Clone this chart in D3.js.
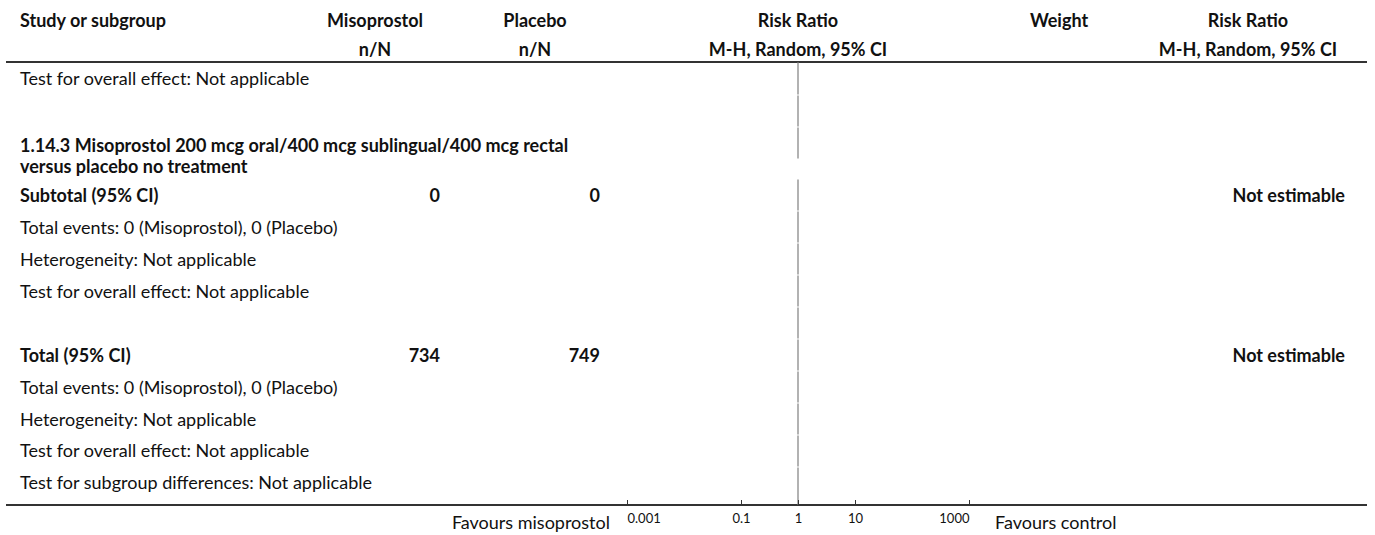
<!DOCTYPE html>
<html>
<head>
<meta charset="utf-8">
<script src="https://cdn.jsdelivr.net/npm/d3@7/dist/d3.min.js"></script>
<style>
  html, body { margin: 0; padding: 0; background: #fff; }
  svg { display: block; font-family: Lato, "Noto Sans", sans-serif; }
</style>
</head>
<body>
<svg id="chart" width="1375" height="535"></svg>
<script>
// ---- forest plot content ----
const headerTop = ["Study or subgroup", "Misoprostol", "Placebo", "Risk Ratio", "Weight", "Risk Ratio"];
const headerSub = ["", "n/N", "n/N", "M-H, Random, 95% CI", "", "M-H, Random, 95% CI"];

const rowLabels = [
  "Test for overall effect: Not applicable",
  "",
  "1.14.3 Misoprostol 200 mcg oral/400 mcg sublingual/400 mcg rectal",
  "versus placebo no treatment",
  "Subtotal (95% CI)",
  "Total events: 0 (Misoprostol), 0 (Placebo)",
  "Heterogeneity: Not applicable",
  "Test for overall effect: Not applicable",
  "",
  "Total (95% CI)",
  "Total events: 0 (Misoprostol), 0 (Placebo)",
  "Heterogeneity: Not applicable",
  "Test for overall effect: Not applicable",
  "Test for subgroup differences: Not applicable"
];
const rowBold = [false, false, true, true, true, false, false, false, false, true, false, false, false, false];
const misoprostolTotals = [null, null, null, null, 0, null, null, null, null, 734, null, null, null, null];
const placeboTotals     = [null, null, null, null, 0, null, null, null, null, 749, null, null, null, null];
const effectText        = [null, null, null, null, "Not estimable", null, null, null, null, "Not estimable", null, null, null, null];

const axisTicks = [0.001, 0.1, 1, 10, 1000];
const axisTickLabels = ["0.001", "0.1", "1", "10", "1000"];
const favoursLabels = ["Favours misoprostol", "Favours control"];

// ---- layout ----
const ruleLeft = 6, ruleRight = 1367;
const topRuleY = 62, axisY = 505;
const textLeft = 20;
const fs = 18;
// row heights: the wrapped second line of the subgroup title is a short row
const rowHeights = [33, 32, 32, 20, 32, 32, 32, 32, 32, 32, 32, 32, 32, 32];
// small vertical nudges so the two title lines sit close together
const rowNudge = [0, 0, 3, -2, 1, 1, 1, 1, 0, 1, 1, 1, 0, 0];
const rowTops = [];
rowHeights.reduce((acc, h) => { rowTops.push(acc); return acc + h; }, topRuleY);
const rowMid = i => rowTops[i] + rowHeights[i] / 2 + rowNudge[i];
// rows with the line of no effect drawn through them
const rowHasLine = rowHeights.map(h => h > 20);

const colCenter = { miso: 375, plac: 535, rr: 798, weight: 1059, rr2: 1248 };
const colRight = { miso: 440, plac: 600, rr2: 1345 };

const svg = d3.select("#chart");

// log scale for the risk ratio plot
const x = d3.scaleLog().domain([0.001, 1000]).range([627, 969]);

// header
const hdr = svg.append("g").attr("font-weight", 700).attr("font-size", fs).attr("fill", "#111");
hdr.append("text").attr("x", textLeft).attr("y", 21).attr("dy", "0.35em").text(headerTop[0]);
const centers = [null, colCenter.miso, colCenter.plac, colCenter.rr, colCenter.weight, colCenter.rr2];
headerTop.forEach((t, i) => {
  if (i === 0) return;
  hdr.append("text").attr("x", centers[i]).attr("y", 21).attr("dy", "0.35em")
    .attr("text-anchor", "middle").text(t);
});
headerSub.forEach((t, i) => {
  if (!t) return;
  hdr.append("text").attr("x", centers[i]).attr("y", 50).attr("dy", "0.35em")
    .attr("text-anchor", "middle").text(t);
});

// rules
svg.append("line").attr("x1", ruleLeft).attr("x2", ruleRight)
  .attr("y1", topRuleY).attr("y2", topRuleY)
  .attr("stroke", "#333").attr("stroke-width", 2);
svg.append("line").attr("x1", ruleLeft).attr("x2", ruleRight)
  .attr("y1", axisY).attr("y2", axisY)
  .attr("stroke", "#333").attr("stroke-width", 2);

// line of no effect, drawn row by row
const segs = rowTops.map((t, i) => ({ y1: t, y2: i === rowTops.length - 1 ? axisY : t + rowHeights[i], on: rowHasLine[i] }))
  .filter(d => d.on);
svg.append("g").selectAll("line").data(segs).join("line")
  .attr("x1", x(1)).attr("x2", x(1))
  .attr("y1", d => d.y1 + 0.5).attr("y2", d => d.y2 - 0.5)
  .attr("stroke", "#999").attr("stroke-width", 1.5);

// table rows
const body = svg.append("g").attr("font-size", fs).attr("fill", "#111");
rowLabels.forEach((label, i) => {
  const y = rowMid(i);
  if (label) {
    body.append("text").attr("x", textLeft).attr("y", y).attr("dy", "0.35em")
      .attr("font-weight", rowBold[i] ? 700 : 400).text(label);
  }
  if (misoprostolTotals[i] !== null) {
    body.append("text").attr("x", colRight.miso).attr("y", y).attr("dy", "0.35em")
      .attr("text-anchor", "end").attr("font-weight", 700).text(misoprostolTotals[i]);
  }
  if (placeboTotals[i] !== null) {
    body.append("text").attr("x", colRight.plac).attr("y", y).attr("dy", "0.35em")
      .attr("text-anchor", "end").attr("font-weight", 700).text(placeboTotals[i]);
  }
  if (effectText[i] !== null) {
    body.append("text").attr("x", colRight.rr2).attr("y", y).attr("dy", "0.35em")
      .attr("text-anchor", "end").attr("font-weight", 700).text(effectText[i]);
  }
});

// axis: ticks point up from the rule, labels below
const axis = d3.axisBottom(x)
  .tickValues(axisTicks)
  .tickFormat((d, i) => axisTickLabels[i])
  .tickSizeInner(-5).tickSizeOuter(0).tickPadding(9);
const ag = svg.append("g").attr("transform", `translate(0,${axisY})`).call(axis);
ag.select(".domain").remove();
ag.selectAll(".tick line").attr("stroke", "#333").attr("stroke-width", 1);
ag.selectAll(".tick text")
  .attr("font-family", "Lato, sans-serif").attr("font-size", 13).attr("fill", "#111")
  .attr("text-anchor", (d, i, n) => i === 0 ? "start" : (i === n.length - 1 ? "end" : "middle"));

// favours labels
svg.append("text").attr("x", 610).attr("y", 523).attr("dy", "0.35em")
  .attr("text-anchor", "end").attr("font-size", fs).attr("fill", "#111").text(favoursLabels[0]);
svg.append("text").attr("x", 995).attr("y", 523).attr("dy", "0.35em")
  .attr("font-size", fs).attr("fill", "#111").text(favoursLabels[1]);
</script>
</body>
</html>
